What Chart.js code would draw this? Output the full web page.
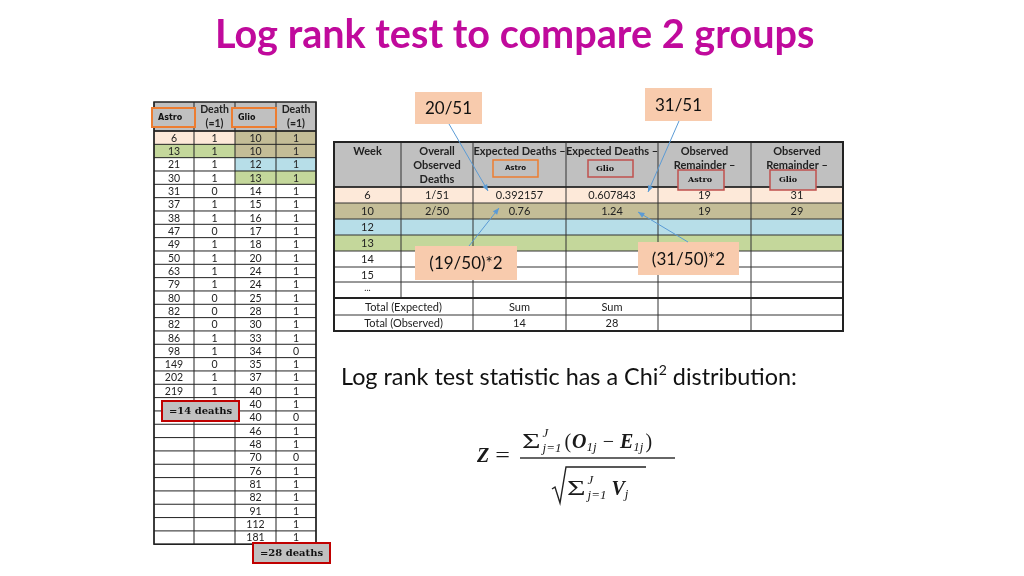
<!DOCTYPE html>
<html lang="en">
  <head>
    <meta charset="UTF-8" />
    <script src="https://cdn.jsdelivr.net/npm/chart.js@4.4.1/dist/chart.umd.min.js"></script>
    <title>Log rank test</title>
    <style>
      body { margin: 0; background: #fff; }
    </style>
  </head>
  <body>
    <canvas id="myChart" width="1024" height="576"></canvas>
    <script>
      // left table: survival times and death flags
      const astroTimes = [6, 13, 21, 30, 31, 37, 38, 47, 49, 50, 63, 79, 80, 82, 82, 86, 98, 149, 202, 219];
      const astroDeaths = [1, 1, 1, 1, 0, 1, 1, 0, 1, 1, 1, 1, 0, 0, 0, 1, 1, 0, 1, 1];
      const glioTimes = [10, 10, 12, 13, 14, 15, 16, 17, 18, 20, 24, 24, 25, 28, 30, 33, 34, 35, 37, 40, 40, 40, 46, 48, 70, 76, 81, 82, 91, 112, 181];
      const glioDeaths = [1, 1, 1, 1, 1, 1, 1, 1, 1, 1, 1, 1, 1, 1, 1, 1, 0, 1, 1, 1, 1, 0, 1, 1, 0, 1, 1, 1, 1, 1, 1];

      // right table: weekly calculation
      const weeks = ["6", "10", "12", "13", "14", "15", "..."];
      const overallObserved = ["1/51", "2/50", "", "", "", "", ""];
      const expectedAstro = ["0.392157", "0.76", "", "", "", "", ""];
      const expectedGlio = ["0.607843", "1.24", "", "", "", "", ""];
      const remainderAstro = ["19", "19", "", "", "", "", ""];
      const remainderGlio = ["31", "29", "", "", "", "", ""];
      const totalExpected = ["Sum", "Sum"];
      const callouts = ["20/51", "31/51", "(19/50)*2", "(31/50)*2"];

      const sum = (a) => a.reduce((s, v) => s + v, 0);
      const totalObserved = [sum(astroDeaths), sum(glioDeaths)];

      const peach = "#fde9d9", khaki = "#c4bd97", blue = "#b7dee8", green = "#c4d79b";
      const gray = "#c0c0c0";

      const slidePlugin = {
        id: "slide",
        afterDraw(chart) {
          const ctx = chart.ctx;
          const X = (v) => chart.scales.x.getPixelForValue(v);
          const Y = (v) => chart.scales.y.getPixelForValue(v);

          function rect(x0, y0, x1, y1, fill, stroke, lw) {
            ctx.save();
            if (fill) { ctx.fillStyle = fill; ctx.fillRect(X(x0), Y(y0), X(x1) - X(x0), Y(y1) - Y(y0)); }
            if (stroke) { ctx.strokeStyle = stroke; ctx.lineWidth = lw || 1; ctx.strokeRect(X(x0), Y(y0), X(x1) - X(x0), Y(y1) - Y(y0)); }
            ctx.restore();
          }
          function line(x0, y0, x1, y1, color, lw) {
            ctx.save();
            ctx.strokeStyle = color; ctx.lineWidth = lw || 1;
            ctx.beginPath(); ctx.moveTo(X(x0), Y(y0)); ctx.lineTo(X(x1), Y(y1)); ctx.stroke();
            ctx.restore();
          }
          function text(t, x, y, font, color, align) {
            ctx.save();
            ctx.font = font; ctx.fillStyle = color || "#000";
            ctx.textAlign = align || "center"; ctx.textBaseline = "middle";
            ctx.fillText(String(t), X(x), Y(y));
            ctx.restore();
          }
          function arrow(x0, y0, x1, y1) {
            const c = "#5b9bd5";
            line(x0, y0, x1, y1, c, 1);
            const a = Math.atan2(Y(y1) - Y(y0), X(x1) - X(x0));
            ctx.save();
            ctx.fillStyle = c;
            ctx.beginPath();
            ctx.moveTo(X(x1), Y(y1));
            ctx.lineTo(X(x1) - 7 * Math.cos(a - 0.4), Y(y1) - 7 * Math.sin(a - 0.4));
            ctx.lineTo(X(x1) - 7 * Math.cos(a + 0.4), Y(y1) - 7 * Math.sin(a + 0.4));
            ctx.closePath(); ctx.fill();
            ctx.restore();
          }
          // math run: pieces laid out left to right on an alphabetic baseline
          function run(parts, x, base) {
            ctx.save();
            ctx.fillStyle = "#1a1a1a"; ctx.textBaseline = "alphabetic"; ctx.textAlign = "left";
            let cx = X(x);
            parts.forEach((p) => {
              ctx.font = p.f;
              if (p.stack) {
                // superscript over subscript
                ctx.fillText(p.sup, cx, Y(base - p.up));
                ctx.fillText(p.sub, cx, Y(base + p.down));
                cx += Math.max(ctx.measureText(p.sup).width, ctx.measureText(p.sub).width) + (p.gap || 0);
              } else {
                const s = p.sx || 1;
                ctx.save();
                ctx.translate(cx, Y(base + (p.dy || 0)));
                ctx.scale(s, 1);
                ctx.fillText(p.t, 0, 0);
                ctx.restore();
                cx += ctx.measureText(p.t).width * s + (p.gap || 0);
              }
            });
            ctx.restore();
            return cx;
          }

          // title
          ctx.save();
          let fs = 40;
          ctx.font = "bold " + fs + "px Lato";
          fs = fs * 600 / ctx.measureText("Log rank test to compare 2 groups").width;
          ctx.restore();
          text("Log rank test to compare 2 groups", 215, 35, "bold " + fs.toFixed(1) + "px Lato", "#c00a9c", "left");

          // ---------- left table ----------
          const lc = [154, 194, 235, 276, 316];
          const top = 102, hb = 131, rh = 13.33;
          const nRows = Math.max(astroTimes.length, glioTimes.length);
          rect(lc[0], top, lc[4], hb, gray);
          const lfill = [[peach, khaki], [green, khaki], [null, blue], [null, green]];
          const tf = "10.5px Lato";
          for (let i = 0; i < nRows; i++) {
            const y0 = hb + i * rh, y1 = y0 + rh, ym = (y0 + y1) / 2 + 0.5;
            const f = lfill[i] || [null, null];
            if (f[0]) rect(lc[0], y0, lc[2], y1, f[0]);
            if (f[1]) rect(lc[2], y0, lc[4], y1, f[1]);
            if (i < astroTimes.length) {
              text(astroTimes[i], (lc[0] + lc[1]) / 2, ym, tf, "#222");
              text(astroDeaths[i], (lc[1] + lc[2]) / 2, ym, tf, "#222");
            }
            text(glioTimes[i], (lc[2] + lc[3]) / 2, ym, tf, "#222");
            text(glioDeaths[i], (lc[3] + lc[4]) / 2, ym, tf, "#222");
          }
          const lbot = hb + nRows * rh;
          for (let i = 0; i <= nRows; i++) line(lc[0], hb + i * rh, lc[4], hb + i * rh, "#222", 1);
          lc.forEach((x) => line(x, top, x, lbot, "#222", 1));
          rect(lc[0], top, lc[4], lbot, null, "#222", 1.5);
          line(lc[0], hb, lc[4], hb, "#222", 1.5);
          // header
          text("Death", (lc[1] + lc[2]) / 2, 110, "bold 10.5px Lato", "#222");
          text("(=1)", (lc[1] + lc[2]) / 2, 124, "bold 10.5px Lato", "#222");
          text("Death", (lc[3] + lc[4]) / 2, 110, "bold 10.5px Lato", "#222");
          text("(=1)", (lc[3] + lc[4]) / 2, 124, "bold 10.5px Lato", "#222");
          rect(152, 108, 195, 127, gray, "#ed7d31", 2);
          text("Astro", 158, 117.5, "bold 8px 'DejaVu Sans'", "#111", "left");
          rect(232, 108, 276, 127, gray, "#ed7d31", 2);
          text("Glio", 238, 117.5, "bold 8px 'DejaVu Sans'", "#111", "left");
          // death totals
          rect(162, 401, 239, 421, gray, "#c00000", 2);
          text("=" + totalObserved[0] + " deaths", 200.5, 411.5, "bold 10px 'DejaVu Serif'", "#111");
          rect(253, 543, 330, 563, gray, "#c00000", 2);
          text("=" + totalObserved[1] + " deaths", 291.5, 553.5, "bold 10px 'DejaVu Serif'", "#111");

          // ---------- right table ----------
          const rc = [334, 401, 473, 566, 658, 751, 843];
          const rtop = 142, rhb = 187;
          const ry = [187, 203, 219, 235, 251, 267, 282, 298, 315, 331];
          const rfill = [peach, khaki, blue, green];
          rect(rc[0], rtop, rc[6], rhb, gray);
          const cols = [weeks, overallObserved, expectedAstro, expectedGlio, remainderAstro, remainderGlio];
          for (let i = 0; i < weeks.length; i++) {
            if (rfill[i]) rect(rc[0], ry[i], rc[6], ry[i + 1], rfill[i]);
            const ym = (ry[i] + ry[i + 1]) / 2 + 0.5;
            cols.forEach((c, j) => {
              const t = c[i];
              const fnt = t === "..." ? "9px Lato" : "11px Lato";
              if (t) text(t, (rc[j] + rc[j + 1]) / 2, t === "..." ? ym - 2 : ym, fnt, "#222");
            });
          }
          // totals rows
          text("Total (Expected)", (rc[0] + rc[2]) / 2, 307, "11px Lato", "#222");
          text("Total (Observed)", (rc[0] + rc[2]) / 2, 323.5, "11px Lato", "#222");
          text(totalExpected[0], (rc[2] + rc[3]) / 2, 307, "11px Lato", "#222");
          text(totalExpected[1], (rc[3] + rc[4]) / 2, 307, "11px Lato", "#222");
          text(totalObserved[0], (rc[2] + rc[3]) / 2, 323.5, "11px Lato", "#222");
          text(totalObserved[1], (rc[3] + rc[4]) / 2, 323.5, "11px Lato", "#222");
          // grid
          ry.forEach((y) => line(rc[0], y, rc[6], y, "#333", 1));
          rc.forEach((x, j) => {
            if (j === 1) { line(x, rtop, x, 298, "#333", 1); }
            else line(x, rtop, x, 331, "#333", 1);
          });
          line(rc[0], 298, rc[6], 298, "#222", 2);
          line(rc[0], rhb, rc[6], rhb, "#222", 1.5);
          rect(rc[0], rtop, rc[6], 331, null, "#222", 2);
          // header text
          const hf = "bold 11px Lato";
          text("Week", (rc[0] + rc[1]) / 2, 151, hf, "#222");
          text("Overall", (rc[1] + rc[2]) / 2, 151, hf, "#222");
          text("Observed", (rc[1] + rc[2]) / 2, 165, hf, "#222");
          text("Deaths", (rc[1] + rc[2]) / 2, 179, hf, "#222");
          text("Expected Deaths \u2013", (rc[2] + rc[3]) / 2, 151, hf, "#222");
          text("Expected Deaths \u2013", (rc[3] + rc[4]) / 2, 151, hf, "#222");
          text("Observed", (rc[4] + rc[5]) / 2, 151, hf, "#222");
          text("Remainder \u2013", (rc[4] + rc[5]) / 2, 165, hf, "#222");
          text("Observed", (rc[5] + rc[6]) / 2, 151, hf, "#222");
          text("Remainder \u2013", (rc[5] + rc[6]) / 2, 165, hf, "#222");
          rect(493, 160, 538, 177, gray, "#ed7d31", 1.5);
          text("Astro", 515.5, 168.5, "bold 7px 'DejaVu Sans'", "#111");
          rect(588, 160, 633, 177, gray, "#c0504d", 1.5);
          text("Glio", 605, 168.5, "bold 8px 'DejaVu Serif'", "#111");
          rect(678, 170, 724, 190, gray, "#c0504d", 1.5);
          text("Astro", 700, 180, "bold 8px 'DejaVu Serif'", "#111");
          rect(770, 170, 816, 190, gray, "#c0504d", 1.5);
          text("Glio", 788, 180, "bold 8px 'DejaVu Serif'", "#111");

          // callouts
          const cf = "17px Lato";
          const boxes = [[415, 92, 482, 124], [645, 88, 712, 121], [415, 246, 517, 280], [638, 242, 739, 275]];
          boxes.forEach((b, k) => {
            rect(b[0], b[1], b[2], b[3], "#f8cbad");
            text(callouts[k], (b[0] + b[2]) / 2, (b[1] + b[3]) / 2 + 1, cf, "#111");
          });
          arrow(449, 124, 488, 191);
          arrow(679, 121, 648, 192);
          arrow(469, 246, 499, 208);
          arrow(688, 242, 638, 212);

          // statement
          ctx.save();
          ctx.font = "20px Lato";
          const p1 = "Log rank test statistic has a Chi", p2 = " distribution:";
          const w1 = ctx.measureText(p1).width;
          ctx.font = "12px Lato";
          const ws = ctx.measureText("2").width;
          ctx.font = "20px Lato";
          const w2 = ctx.measureText(p2).width;
          const k = 456 / (w1 + ws + w2);
          ctx.restore();
          const f20 = (20 * k).toFixed(1) + "px Lato", f12 = (12 * k).toFixed(1) + "px Lato";
          text(p1, 341, 377, f20, "#111", "left");
          text("2", 341 + w1 * k, 370, f12, "#111", "left");
          text(p2, 341 + (w1 + ws) * k, 377, f20, "#111", "left");

          // formula
          const mi = "italic bold 20px 'Liberation Serif'";
          const mr = "20px 'Liberation Serif'";
          const sg = "22px 'Liberation Serif'";
          const sm = "italic 13px 'Liberation Serif'";
          run([{ t: "Z", f: mi, gap: 6 }, { t: "=", f: mr, sx: 1.3 }], 477, 462);
          line(520, 458, 675, 458, "#333", 1.3);
          run([
            { t: "\u03a3", f: sg, sx: 1.45, gap: 2 },
            { stack: true, sup: "J", sub: "j=1", f: sm, up: 11, down: 4, gap: 3 },
            { t: "(", f: mr, gap: 1 },
            { t: "O", f: mi },
            { t: "1j", f: sm, dy: 3, gap: 6 },
            { t: "\u2212", f: mr, gap: 6 },
            { t: "E", f: mi },
            { t: "1j", f: sm, dy: 3, gap: 2 },
            { t: ")", f: mr },
          ], 522, 448);
          // square root
          ctx.save();
          ctx.strokeStyle = "#222"; ctx.lineWidth = 1.4;
          ctx.beginPath();
          ctx.moveTo(X(552), Y(489)); ctx.lineTo(X(555), Y(487));
          ctx.lineTo(X(560), Y(503)); ctx.lineTo(X(566), Y(467)); ctx.lineTo(X(646), Y(467));
          ctx.stroke();
          ctx.restore();
          run([
            { t: "\u03a3", f: sg, sx: 1.45, gap: 2 },
            { stack: true, sup: "J", sub: "j=1", f: sm, up: 11, down: 4, gap: 5 },
            { t: "V", f: mi },
            { t: "j", f: sm, dy: 3 },
          ], 567, 495);
        },
      };

      const ctx = document.getElementById("myChart").getContext("2d");
      const myChart = new Chart(ctx, {
        type: "scatter",
        data: { datasets: [{ data: [], pointRadius: 0 }] },
        options: {
          responsive: false,
          animation: false,
          layout: { padding: 0 },
          plugins: { legend: { display: false }, tooltip: { enabled: false } },
          scales: {
            x: { type: "linear", min: 0, max: 1024, display: false },
            y: { type: "linear", min: 0, max: 576, reverse: true, display: false },
          },
        },
        plugins: [slidePlugin],
      });
    </script>
  </body>
</html>
